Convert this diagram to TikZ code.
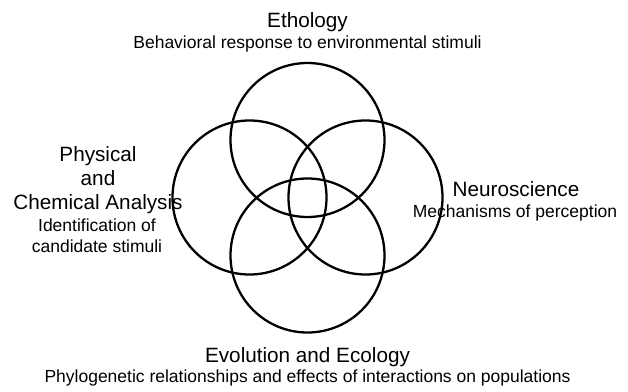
\documentclass[tikz,border=0pt]{standalone}
\usepackage{fontspec}
\setmainfont{Liberation Sans}
\usetikzlibrary{positioning}
\newcommand{\headfont}{\fontsize{20.7}{24}\selectfont}
\newcommand{\notefont}{\fontsize{17.5}{20.5}\selectfont}
\begin{document}
\begin{tikzpicture}[x=1pt, y=-1pt,
    ring/.style={draw, circle, line width=2.3pt, minimum size=154pt, inner sep=0pt},
    head/.style={font=\headfont, align=center, anchor=base, inner sep=0pt},
    note/.style={font=\notefont, align=center, anchor=base, inner sep=0pt}]
    \useasboundingbox (0,0) rectangle (628,391);
    % field names (base = last line)
    \node[head] (etho) at (307.5,27) {Ethology};
    \node[note] (ethonote) at (307.5,48) {Behavioral response to environmental stimuli};
    \node[head] (phys) at (98,209) {Physical\\and\\Chemical Analysis};
    \node[note] (physnote) at (97,252) {Identification of\\candidate stimuli};
    \node[head] (neuro) at (516,196) {Neuroscience};
    \node[note] (neuronote) at (515,217) {Mechanisms of perception};
    \node[head] (evol) at (307.5,362) {Evolution and Ecology};
    \node[note] (evolnote) at (307.5,382.5) {Phylogenetic relationships and effects of interactions on populations};
    % the four circles
    \node[ring] (top) at (307.5,140) {};
    \node[ring] (left) at (249.5,197.5) {};
    \node[ring] (right) at (365.5,197.5) {};
    \node[ring] (bottom) at (307.5,255.5) {};
\end{tikzpicture}
\end{document}
